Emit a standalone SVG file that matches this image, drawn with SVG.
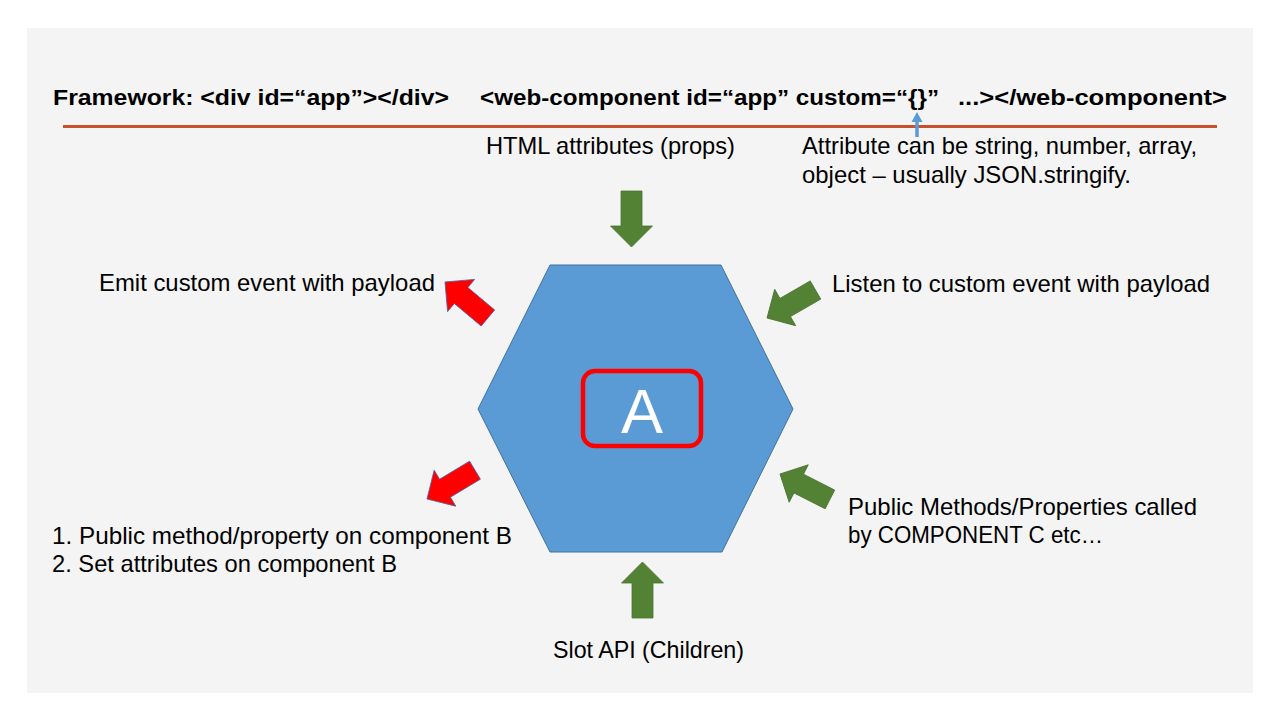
<svg xmlns="http://www.w3.org/2000/svg" width="1280" height="720" viewBox="0 0 1280 720">
  <style>
    .t { font-family: "Segoe UI", "Liberation Sans", Arial, sans-serif; font-size: 24px; fill: #000; }
    .title { font-family: "Segoe UI", "Liberation Sans", Arial, sans-serif; font-size: 21.3px; font-weight: bold; fill: #000; }
    .green { fill: #548235; stroke: #4a7330; stroke-width: 0.8; }
    .red { fill: #ff0000; stroke: #5a5f9a; stroke-width: 0.8; }
  </style>
  <defs>
    <polygon id="arr" points="-56,-10.5 -21,-10.5 -21,-21 0,0 -21,21 -21,10.5 -56,10.5"/>
  </defs>
  <rect x="0" y="0" width="1280" height="720" fill="#ffffff"/>
  <rect x="27" y="28" width="1226" height="665" fill="#f4f4f4"/>

  <g id="header">
    <text class="title" x="53" y="105" textLength="396" lengthAdjust="spacingAndGlyphs">Framework: &lt;div id=“app”&gt;&lt;/div&gt;</text>
    <text class="title" x="480" y="105" textLength="459" lengthAdjust="spacingAndGlyphs">&lt;web-component id=“app” custom=“{}”</text>
    <text class="title" x="958" y="105" textLength="269" lengthAdjust="spacingAndGlyphs">...&gt;&lt;/web-component&gt;</text>
    <line x1="63" y1="126.5" x2="1217" y2="126.5" stroke="#c8502d" stroke-width="3"/>
  </g>

  <g id="component-a">
    <polygon points="550,265 721,265 793,409 722,552 550,552 478,409" fill="#5b9bd5" stroke="#41719c" stroke-width="1"/>
    <rect x="583" y="371" width="118" height="75" rx="12" ry="12" fill="none" stroke="#ff0000" stroke-width="4.5"/>
    <text x="642" y="433" text-anchor="middle" font-family="Segoe UI, Liberation Sans, Arial, sans-serif" font-size="63" fill="#ffffff">A</text>
  </g>

  <g id="connectors">
    <g id="attr-pointer">
      <line x1="917" y1="137" x2="917" y2="121" stroke="#5b9bd5" stroke-width="3.5"/>
      <polygon points="911.5,122 917,112 922.5,122" fill="#5b9bd5"/>
    </g>
    <use href="#arr" class="green" transform="translate(631.5,247) rotate(90)"/>
    <use href="#arr" class="green" transform="translate(642.5,562) rotate(-90)"/>
    <use href="#arr" class="red" transform="translate(445,282) rotate(-140)"/>
    <use href="#arr" class="red" transform="translate(427,499) rotate(149)"/>
    <use href="#arr" class="green" transform="translate(767,318) rotate(150)"/>
    <use href="#arr" class="green" transform="translate(780,474) rotate(-153)"/>
  </g>

  <g id="label-html-attributes">
    <text class="t" x="486" y="154" textLength="249" lengthAdjust="spacingAndGlyphs">HTML attributes (props)</text>
  </g>
  <g id="label-attribute-types">
    <text class="t" x="802" y="154" textLength="395" lengthAdjust="spacingAndGlyphs">Attribute can be string, number, array,</text>
    <text class="t" x="802" y="183" textLength="329" lengthAdjust="spacingAndGlyphs">object – usually JSON.stringify.</text>
  </g>
  <g id="label-emit">
    <text class="t" x="99" y="291" textLength="336" lengthAdjust="spacingAndGlyphs">Emit custom event with payload</text>
  </g>
  <g id="label-listen">
    <text class="t" x="832" y="292" textLength="378" lengthAdjust="spacingAndGlyphs">Listen to custom event with payload</text>
  </g>
  <g id="label-component-b">
    <text class="t" x="52" y="544" textLength="460" lengthAdjust="spacingAndGlyphs">1. Public method/property on component B</text>
    <text class="t" x="52" y="572" textLength="345" lengthAdjust="spacingAndGlyphs">2. Set attributes on component B</text>
  </g>
  <g id="label-public-methods">
    <text class="t" x="848" y="515" textLength="349" lengthAdjust="spacingAndGlyphs">Public Methods/Properties called</text>
    <text class="t" x="848" y="543" textLength="255" lengthAdjust="spacingAndGlyphs">by COMPONENT C etc…</text>
  </g>
  <g id="label-slot">
    <text class="t" x="553" y="658" textLength="191" lengthAdjust="spacingAndGlyphs">Slot API (Children)</text>
  </g>
</svg>
